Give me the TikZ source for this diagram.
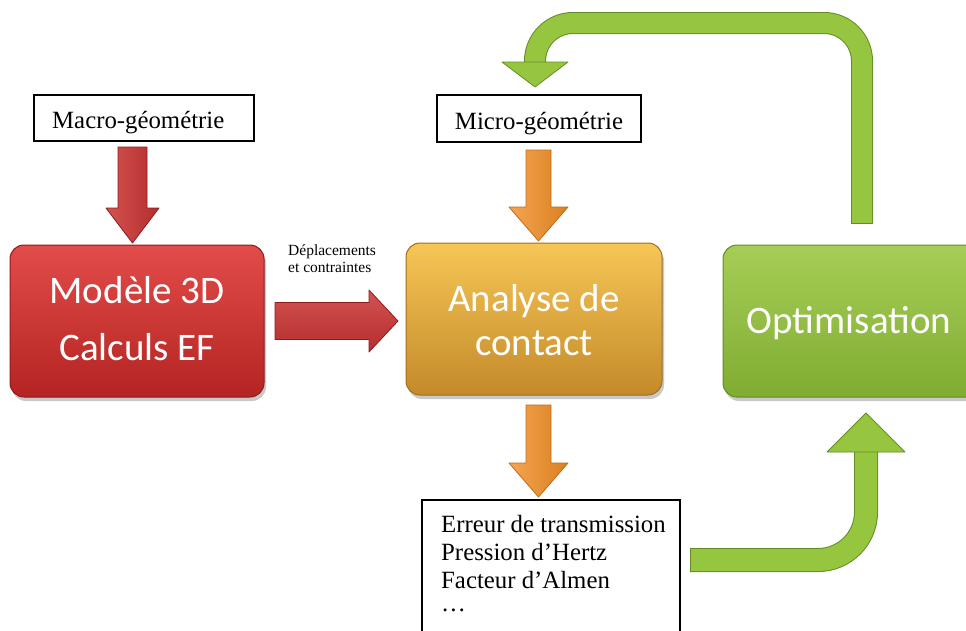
\documentclass[tikz,border=0pt]{standalone}
\usepackage{fontspec}
\setmainfont{Liberation Serif}
\newfontfamily\calib{Carlito}
\usetikzlibrary{calc,shadows}
\definecolor{redtop}{RGB}{226,76,74}
\definecolor{redbot}{RGB}{180,36,34}
\definecolor{redline}{RGB}{140,28,28}
\definecolor{orgtop}{RGB}{246,198,86}
\definecolor{orgbot}{RGB}{196,138,42}
\definecolor{orgline}{RGB}{160,110,30}
\definecolor{grntop}{RGB}{166,206,86}
\definecolor{grnbot}{RGB}{128,172,50}
\definecolor{grnline}{RGB}{100,140,38}
\definecolor{redarrow}{RGB}{204,52,50}
\definecolor{orgarrow}{RGB}{242,142,38}
\definecolor{orgarrowline}{RGB}{196,106,20}
\definecolor{grnarrow}{RGB}{150,198,64}
\tikzset{
  blockarrow/.style n args={3}{to path={
    ($(\tikztostart)!#1!90:(\tikztotarget)$) --
    ($(\tikztotarget)!#3!(\tikztostart)!#1!90:(\tikztotarget)$) --
    ($(\tikztotarget)!#3!(\tikztostart)!#2!90:(\tikztotarget)$) --
    (\tikztotarget) --
    ($(\tikztotarget)!#3!(\tikztostart)!#2!-90:(\tikztotarget)$) --
    ($(\tikztotarget)!#3!(\tikztostart)!#1!-90:(\tikztotarget)$) --
    ($(\tikztostart)!#1!-90:(\tikztotarget)$) -- cycle}},
  box3d/.style={rounded corners=14pt, line width=1pt, inner sep=0pt,
    drop shadow={shadow xshift=2pt, shadow yshift=-4pt, opacity=0.3, fill=black!70}},
  plainbox/.style={draw=black, line width=1.3pt, fill=white, inner sep=0pt},
  serif/.style={font=\fontsize{24.8}{28}\selectfont, inner sep=0pt},
  smalltxt/.style={font=\fontsize{15.5}{17}\selectfont, inner sep=0pt},
  bigtxt/.style={font=\calib\fontsize{39}{44}\selectfont, text=white, inner sep=0pt},
  redarr/.style={left color=redarrow!85!white, right color=redarrow!88!black, draw=redline, line width=0.8pt, line join=round},
  redarrh/.style={top color=redarrow!85!white, bottom color=redarrow!88!black, draw=redline, line width=0.8pt, line join=round},
  orgarr/.style={left color=orgarrow!80!white, right color=orgarrow!90!black, draw=orgarrowline, line width=0.8pt, line join=round},
  grnarr/.style={fill=grnarrow, draw=grnline, line width=0.8pt, line join=round},
  grnshaft/.style={draw=grnline, line width=1pt, double=grnarrow, double distance=20pt}
}
\begin{document}
\begin{tikzpicture}[x=1pt, y=-1pt]
\useasboundingbox (0,0) rectangle (966,630);
\clip (0,0) rectangle (966,630);

% plain boxes
\node[plainbox, minimum width=220pt, minimum height=46pt] (macro) at (144,118) {};
\node[serif, anchor=base west] (macrot) at (52,128) {Macro-géométrie};
\node[plainbox, minimum width=204pt, minimum height=47pt] (micro) at (539,118.5) {};
\node[serif, anchor=base] (microt) at (539,129) {Micro-géométrie};
\node[plainbox, minimum width=258pt, minimum height=145pt] (res) at (551,572.5) {};
\node[serif, anchor=base west] (r1) at (441,532) {Erreur de transmission};
\node[serif, anchor=base west] (r2) at (441,560) {Pression d’Hertz};
\node[serif, anchor=base west] (r3) at (441,588) {Facteur d’Almen};
\node[serif, anchor=base west] (r4) at (441,611) {…};

% 3D boxes
\node[box3d, top color=redtop, bottom color=redbot, draw=redline,
  minimum width=254pt, minimum height=152pt] (mod) at (137,321) {};
\node[bigtxt, anchor=base] (modt1) at (137,303) {Modèle 3D};
\node[bigtxt, anchor=base] (modt2) at (137,360) {Calculs EF};

\node[box3d, top color=orgtop, bottom color=orgbot, draw=orgline,
  minimum width=256pt, minimum height=152pt] (ana) at (534,319) {};
\node[bigtxt, anchor=base] (anat1) at (534,311) {Analyse de};
\node[bigtxt, anchor=base] (anat2) at (534,355) {contact};

\node[box3d, top color=grntop, bottom color=grnbot, draw=grnline,
  minimum width=264pt, minimum height=152pt] (opt) at (855,321) {};
\node[bigtxt, anchor=base] (optt) at (849,333) {Optimisation};

% label
\node[smalltxt, anchor=base west] (lab1) at (288,255) {Déplacements};
\node[smalltxt, anchor=base west] (lab2) at (288,272) {et contraintes};

% straight block arrows
\coordinate (a1s) at (132.5,147);  \coordinate (a1t) at (132.5,243);
\coordinate (a2s) at (275,321);    \coordinate (a2t) at (398,321);
\coordinate (a3s) at (538.5,150);  \coordinate (a3t) at (538.5,241);
\coordinate (a4s) at (538.5,405);  \coordinate (a4t) at (538.5,497);
\draw[redarr] (a1s) to[blockarrow={14.5pt}{26.5pt}{35pt}] (a1t);
\draw[redarrh] (a2s) to[blockarrow={18.5pt}{31pt}{29pt}] (a2t);
\draw[orgarr] (a3s) to[blockarrow={12.5pt}{29.5pt}{34pt}] (a3t);
\draw[orgarr] (a4s) to[blockarrow={12.5pt}{29.5pt}{34pt}] (a4t);

% green feedback arrow (top)
\coordinate (g1s) at (862,223);
\coordinate (g1a) at (862,23);
\coordinate (g1b) at (535,23);
\coordinate (g1h) at (535,62);
\coordinate (g1t) at (535,87);
\draw[grnshaft, rounded corners=38pt] (g1s) -- (g1a) -- (g1b) -- (g1h);
\draw[grnline, line width=1pt] ($(g1s)+(-11,0)$) -- ($(g1s)+(11,0)$);
\draw[grnarr] (g1h) to[blockarrow={10pt}{33pt}{25pt}] (g1t);

% green arrow (bottom)
\coordinate (g2s) at (690,560);
\coordinate (g2a) at (866,560);
\coordinate (g2h) at (866,452);
\coordinate (g2t) at (866,413);
\draw[grnshaft, double distance=22pt, rounded corners=48pt] (g2s) -- (g2a) -- (g2h);
\draw[grnline, line width=1pt] ($(g2s)+(0,-12)$) -- ($(g2s)+(0,12)$);
\draw[grnarr] (g2h) to[blockarrow={11pt}{39pt}{39pt}] (g2t);
\end{tikzpicture}
\end{document}
